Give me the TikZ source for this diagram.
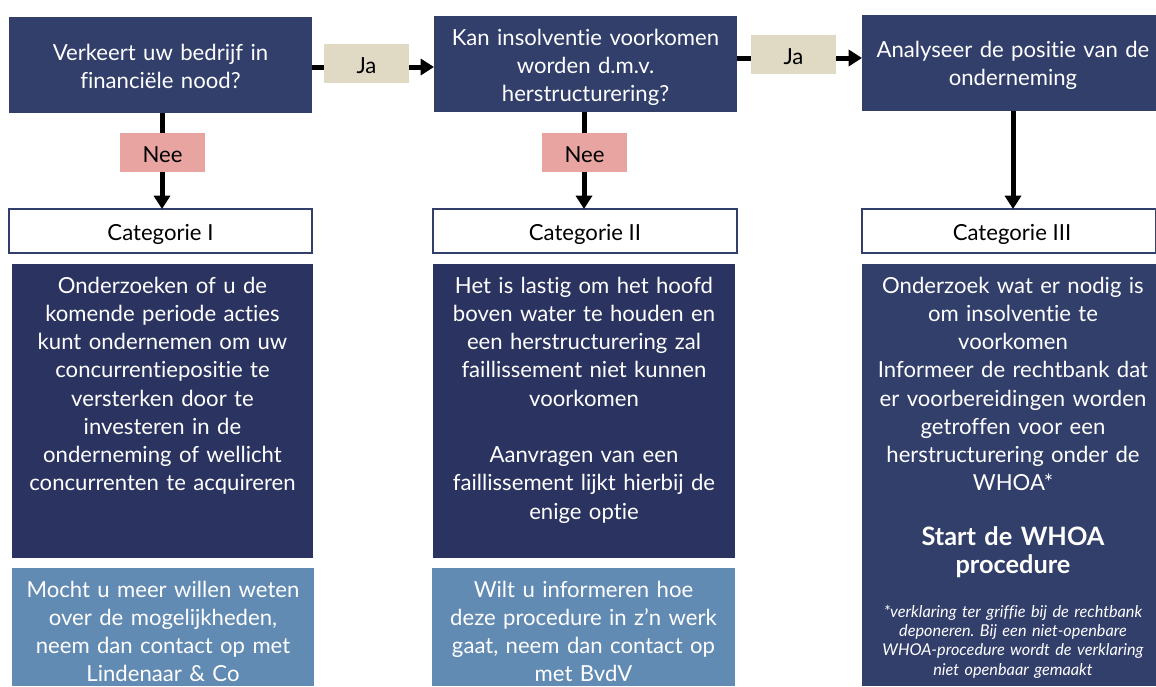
\documentclass[tikz,border=0pt]{standalone}
\usepackage{fontspec}
\setmainfont{Lato}[Ligatures={NoCommon}]
\usetikzlibrary{arrows.meta,fit,calc}
\definecolor{navyA}{HTML}{323F6B}
\definecolor{navyB}{HTML}{2B3460}
\definecolor{lblue}{HTML}{628BB4}
\definecolor{beige}{HTML}{E0D9C3}
\definecolor{pinkl}{HTML}{E8A4A0}
\newcommand{\mainfs}{\fontsize{16.6}{21.2}\selectfont}
\frenchspacing
\begin{document}
\begin{tikzpicture}[x=0.75pt,y=-0.75pt,
  rect/.style={inner sep=0pt, outer sep=0pt},
  qbox/.style={rect, fill=navyA},
  cbox/.style={rect, fill=navyB},
  dbox/.style={rect, fill=navyA},
  lbox/.style={rect, fill=lblue},
  catbox/.style={rect, fill=white, draw=navyA, line width=1.5pt},
  jabox/.style={rect, fill=beige},
  neebox/.style={rect, fill=pinkl},
  wtext/.style={inner sep=0pt, text=white, align=center, font=\mainfs, text width=#1},
  wtext/.default=290pt,
  btext/.style={inner sep=0pt, text=black, font=\mainfs},
  conn/.style={line width=3.75pt, draw=black},
  arr/.style={conn, -{Triangle[width=12pt,length=10pt]}},
]
\useasboundingbox (0,0) rectangle (1156,686);

% question boxes
\node[qbox, fit={(9,17) (312,113)}] (q1) {};
\node[qbox, fit={(434,16) (737,112)}] (q2) {};
\node[qbox, fit={(862,15) (1156,111)}] (q3) {};
\node[wtext, anchor=base] (q1t) at (160.5,60) {Verkeert uw bedrijf in\\financiële nood?};
\node[wtext, anchor=base] (q2t) at (585.5,45) {Kan insolventie voorkomen\\worden d.m.v.\\herstructurering?};
\node[wtext, anchor=base] (q3t) at (1013,57) {Analyseer de positie van de\\onderneming};

% labels
\node[jabox, fit={(324,44) (409,83)}] (ja1) {};
\node[btext, anchor=base] (ja1t) at (366.5,73) {Ja};
\node[jabox, fit={(751,35) (836,74)}] (ja2) {};
\node[btext, anchor=base] (ja2t) at (793.5,64) {Ja};
\node[neebox, fit={(120,133) (205,172)}] (nee1) {};
\node[btext, anchor=base] (nee1t) at (162.5,162) {Nee};
\node[neebox, fit={(542,133) (627,172)}] (nee2) {};
\node[btext, anchor=base] (nee2t) at (584.5,162) {Nee};

% category boxes
\node[catbox, fit={(9,209) (312,253)}] (cat1) {};
\node[btext, anchor=base] (cat1t) at (160.5,240) {Categorie I};
\node[catbox, fit={(433,209) (737,253)}] (cat2) {};
\node[btext, anchor=base] (cat2t) at (585,240) {Categorie II};
\node[catbox, fit={(862,209) (1156,253)}] (cat3) {};
\node[btext, anchor=base] (cat3t) at (1012,240) {Categorie III};

% connectors
\coordinate (a1) at (318,67);
\coordinate (a2) at (744,58);
\draw[conn] (q1.east |- a1) -- (ja1.west |- a1);
\draw[arr] (ja1.east |- a1) -- (q2.west |- a1);
\draw[conn] (q2.east |- a2) -- (ja2.west |- a2);
\draw[arr] (ja2.east |- a2) -- (q3.west |- a2);
\coordinate (v1) at (162,0);
\coordinate (v2) at (584,0);
\coordinate (v3) at (1013,0);
\draw[conn] (q1.south -| v1) -- (nee1.north -| v1);
\draw[arr] (nee1.south -| v1) -- (cat1.north -| v1);
\draw[conn] (q2.south -| v2) -- (nee2.north -| v2);
\draw[arr] (nee2.south -| v2) -- (cat2.north -| v2);
\draw[arr] (q3.south -| v3) -- (cat3.north -| v3);

% content boxes
\node[cbox, fit={(12,264) (313,558)}] (c1) {};
\node[wtext, anchor=base] (c1t) at (162.5,293) {Onderzoeken of u de\\komende periode acties\\kunt ondernemen om uw\\concurrentiepositie te\\versterken door te\\investeren in de\\onderneming of wellicht\\concurrenten te acquireren};
\node[cbox, fit={(433,264) (735,558)}] (c2) {};
\node[wtext, anchor=base] (c2t) at (584,293) {Het is lastig om het hoofd\\boven water te houden en\\een herstructurering zal\\faillissement niet kunnen\\voorkomen\\[21.2pt]Aanvragen van een\\faillissement lijkt hierbij de\\enige optie};
\node[dbox, fit={(862,264) (1156,686)}] (c3) {};
\node[wtext, anchor=base] (c3t) at (1013,293) {Onderzoek wat er nodig is\\om insolventie te\\voorkomen\\Informeer de rechtbank dat\\er voorbereidingen worden\\getroffen voor een\\herstructurering onder de\\WHOA*};
\node[wtext, anchor=base, font=\fontsize{19}{21.5}\selectfont\bfseries] (c3b) at (1013,545) {Start de WHOA\\procedure};
\node[wtext, anchor=base, font=\fontsize{12.2}{14.6}\selectfont\itshape] (c3n) at (1013,617) {*verklaring ter griffie bij de rechtbank\\deponeren. Bij een niet-openbare\\WHOA-procedure wordt de verklaring\\niet openbaar gemaakt};

% light boxes
\node[lbox, fit={(12,568) (314,686)}] (l1) {};
\node[wtext, anchor=base] (l1t) at (163,597) {Mocht u meer willen weten\\over de mogelijkheden,\\neem dan contact op met\\Lindenaar \& Co};
\node[lbox, fit={(432,568) (735,686)}] (l2) {};
\node[wtext, anchor=base] (l2t) at (583.5,597) {Wilt u informeren hoe\\deze procedure in z’n werk\\gaat, neem dan contact op\\met BvdV};
\end{tikzpicture}
\end{document}
